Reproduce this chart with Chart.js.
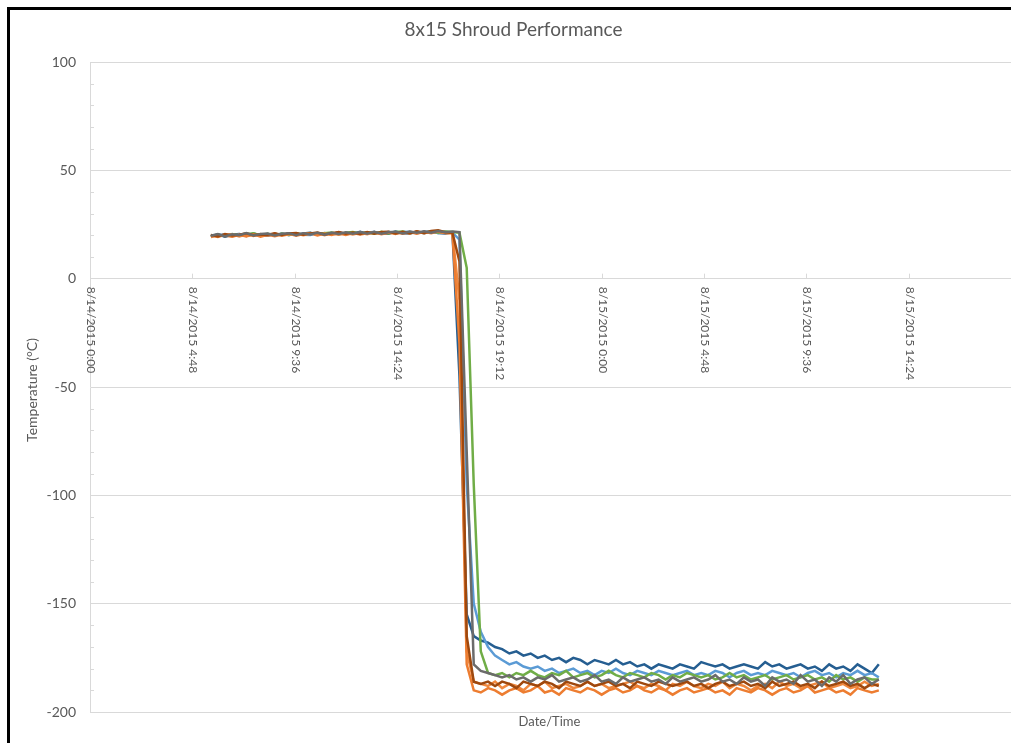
<!DOCTYPE html>
<html>
<head>
<meta charset="utf-8">
<script src="https://cdn.jsdelivr.net/npm/chart.js@4.4.1/dist/chart.umd.min.js"></script>
<style>
  html, body { margin: 0; padding: 0; background: #fff; }
  #wrap { position: relative; width: 1011px; height: 743px; overflow: hidden; }
  #frame { position: absolute; left: 7px; top: 7px; width: 1100px; height: 800px;
           border-left: 3px solid #000; border-top: 3px solid #000; pointer-events: none; }
  canvas { position: absolute; left: 0; top: 0; }
</style>
</head>
<body>
<div id="wrap">
  <canvas id="shroudChart" width="1011" height="743"></canvas>
  <div id="frame"></div>
</div>
<script>
// time of each reading, hours after 8/14/2015 0:00
const hours = [
  5.67, 6.00, 6.33, 6.67, 7.00, 7.33, 7.67, 8.00, 8.33, 8.67,
  9.00, 9.33, 9.67, 10.00, 10.33, 10.67, 11.00, 11.33, 11.67, 12.00,
  12.33, 12.67, 13.00, 13.33, 13.67, 14.00, 14.33, 14.67, 15.00, 15.33,
  15.67, 16.00, 16.33, 16.67, 17.00, 17.33, 17.67, 18.00, 18.33, 18.67,
  19.00, 19.33, 19.67, 20.00, 20.33, 20.67, 21.00, 21.33, 21.67, 22.00,
  22.33, 22.67, 23.00, 23.33, 23.67, 24.00, 24.33, 24.67, 25.00, 25.33,
  25.67, 26.00, 26.33, 26.67, 27.00, 27.33, 27.67, 28.00, 28.33, 28.67,
  29.00, 29.33, 29.67, 30.00, 30.33, 30.67, 31.00, 31.33, 31.67, 32.00,
  32.33, 32.67, 33.00, 33.33, 33.67, 34.00, 34.33, 34.67, 35.00, 35.33,
  35.67, 36.00, 36.33, 36.67, 37.00
];

const gray = [
  19.8, 20.6, 19.5, 20.5, 20.1, 21.0, 19.9, 20.6, 20.8, 19.9,
  20.7, 21.0, 20.1, 21.0, 20.4, 21.2, 20.3, 21.2, 20.6, 21.4,
  20.7, 21.5, 20.8, 21.6, 20.7, 21.4, 21.7, 20.9, 21.8, 21.2,
  21.9, 21.2, 22.0, 21.4, 21.8, 21.5, -80, -178, -181, -182,
  -183, -184, -183, -185, -184, -186, -184, -185, -183, -186,
  -185, -184, -186, -185, -183, -186, -185, -187, -184, -186,
  -185, -184, -186, -185, -187, -184, -186, -185, -184, -186,
  -185, -183, -186, -185, -187, -184, -186, -185, -188, -184,
  -186, -185, -187, -183, -186, -185, -188, -184, -186, -183,
  -187, -185, -184, -187, -185
];

const brown = [
  20.2, 19.5, 20.6, 19.9, 20.3, 20.9, 20.1, 20.4, 20.3, 21.0,
  20.2, 20.9, 21.1, 20.3, 20.9, 21.3, 20.4, 21.0, 21.5, 20.7,
  21.3, 20.6, 21.5, 20.8, 21.5, 21.7, 20.9, 21.6, 21.0, 21.9,
  21.1, 22.0, 22.3, 21.4, 21.2, 8, -165, -186, -187, -186,
  -188, -186, -187, -189, -186, -187, -188, -186, -187, -189,
  -186, -187, -188, -186, -188, -187, -186, -188, -187, -189,
  -186, -187, -188, -186, -187, -188, -187, -186, -188, -187,
  -189, -187, -186, -188, -187, -186, -188, -187, -189, -186,
  -188, -187, -186, -188, -187, -189, -186, -188, -187, -186,
  -188, -187, -189, -187, -188
];

const orangeA = [
  19.2, 20.1, 19.9, 19.4, 20.3, 19.5, 20.5, 19.4, 20.3, 19.6,
  20.4, 20.7, 19.8, 20.6, 20.9, 19.9, 20.8, 20.2, 21.0, 20.2,
  21.1, 20.4, 21.0, 21.3, 20.5, 21.2, 21.4, 20.7, 21.5, 20.8,
  21.6, 21.0, 21.7, 21.1, 21.0, -30, -178, -190, -191, -189,
  -190, -192, -190, -189, -191, -190, -188, -191, -190, -192,
  -189, -190, -191, -189, -190, -192, -190, -189, -191, -190,
  -188, -190, -191, -189, -190, -192, -190, -189, -191, -190,
  -189, -191, -190, -192, -189, -190, -191, -189, -190, -192,
  -190, -189, -191, -190, -188, -191, -190, -189, -191, -190,
  -192, -189, -190, -191, -190
];

const orangeB = [
  19.9, 19.3, 20.2, 20.5, 19.5, 20.4, 19.7, 20.6, 19.9, 20.8,
  19.8, 20.5, 20.8, 20.0, 20.7, 21.0, 20.1, 20.9, 20.3, 21.1,
  20.4, 21.2, 20.5, 21.4, 20.7, 21.3, 20.6, 21.5, 20.9, 21.7,
  21.0, 21.6, 21.8, 21.1, 21.1, -10, -172, -186, -187, -188,
  -186, -189, -187, -188, -190, -187, -188, -186, -189, -188,
  -187, -189, -188, -186, -188, -187, -189, -188, -187, -186,
  -188, -189, -187, -188, -190, -187, -188, -186, -188, -189,
  -187, -188, -186, -189, -187, -188, -190, -188, -187, -189,
  -186, -188, -187, -189, -188, -187, -186, -189, -188, -187,
  -189, -188, -186, -188, -187
];

const green = [
  19.7, 20.3, 19.7, 20.6, 19.9, 20.5, 20.9, 20.0, 20.7, 19.9,
  20.8, 20.2, 21.0, 20.3, 21.1, 20.4, 21.0, 21.3, 20.5, 21.2,
  21.5, 20.7, 21.4, 20.8, 21.6, 20.9, 21.5, 21.8, 21.0, 21.7,
  21.1, 21.9, 21.2, 21.8, 21.5, 21.2, 5, -95, -172, -182,
  -183, -182, -184, -182, -183, -181, -183, -184, -182, -183,
  -181, -184, -183, -182, -184, -183, -181, -183, -184, -182,
  -183, -184, -182, -183, -185, -183, -184, -182, -183, -184,
  -183, -185, -184, -182, -184, -183, -185, -184, -183, -185,
  -184, -183, -185, -184, -183, -185, -184, -186, -183, -185,
  -184, -186, -184, -185, -185
];

const lightBlue = [
  19.4, 20.2, 20.4, 19.6, 20.5, 19.9, 20.7, 19.7, 20.6, 20.0,
  20.8, 20.1, 20.9, 20.3, 20.2, 21.0, 20.4, 21.2, 20.5, 21.1,
  21.4, 20.6, 21.3, 21.5, 20.8, 21.6, 20.9, 21.5, 21.7, 21.0,
  21.6, 21.8, 21.1, 21.7, 21.2, 18, -95, -150, -163, -170,
  -174, -176, -178, -177, -179, -180, -179, -181, -180, -182,
  -181, -180, -182, -181, -183, -181, -182, -180, -182, -183,
  -181, -182, -183, -181, -182, -183, -182, -181, -183, -182,
  -183, -181, -182, -184, -182, -181, -183, -182, -183, -181,
  -182, -183, -182, -184, -182, -181, -183, -182, -184, -182,
  -183, -181, -183, -182, -184
];

const darkBlue = [
  19.6, 20.5, 19.4, 20.3, 20.6, 19.7, 20.8, 20.0, 19.8, 20.7,
  20.1, 21.0, 20.2, 20.8, 21.2, 20.3, 21.1, 20.5, 21.4, 20.6,
  20.8, 21.6, 20.7, 21.5, 20.9, 20.7, 21.7, 21.0, 20.8, 21.6,
  21.0, 21.8, 21.1, 20.9, 21.4, -45, -155, -165, -167, -168,
  -170, -171, -173, -172, -174, -173, -175, -174, -176, -175,
  -177, -175, -176, -178, -176, -177, -178, -176, -178, -177,
  -179, -178, -180, -178, -179, -180, -178, -179, -180, -177,
  -178, -179, -178, -180, -179, -178, -179, -180, -177, -179,
  -178, -180, -179, -178, -180, -179, -181, -178, -180, -179,
  -181, -178, -180, -182, -178
];

const seriesList = [gray, brown, orangeA, orangeB, green, lightBlue, darkBlue];
const seriesColors = ['#6b6b6b', '#9e480e', '#ed7d31', '#f0883e', '#70ad47', '#5b9bd5', '#255e91'];

const yTicks = [-200, -150, -100, -50, 0, 50, 100];
const xTickHours = [0, 4.8, 9.6, 14.4, 19.2, 24, 28.8, 33.6, 38.4];
const xTickLabels = [
  '8/14/2015 0:00', '8/14/2015 4:48', '8/14/2015 9:36', '8/14/2015 14:24',
  '8/14/2015 19:12', '8/15/2015 0:00', '8/15/2015 4:48', '8/15/2015 9:36',
  '8/15/2015 14:24'
];

const TEXT = '#595959';
const GRID = '#d9d9d9';
const FONT = 'Lato';

// Excel-style extras: axis crossing labels, minor ticks, titles
const excelAxes = {
  id: 'excelAxes',
  afterDraw(chart) {
    const { ctx, chartArea, scales: { x, y } } = chart;
    const y0 = y.getPixelForValue(0);
    ctx.save();

    ctx.strokeStyle = GRID;
    ctx.lineWidth = 1;
    for (let v = -200; v <= 100; v += 10) {
      if (v % 50 === 0) continue;
      const py = Math.round(y.getPixelForValue(v)) + 0.5;
      ctx.beginPath();
      ctx.moveTo(chartArea.left, py);
      ctx.lineTo(chartArea.left + 4, py);
      ctx.stroke();
    }

    ctx.fillStyle = TEXT;
    ctx.font = '12px ' + FONT;
    ctx.textAlign = 'left';
    ctx.textBaseline = 'middle';
    xTickHours.forEach((h, i) => {
      const px = Math.round(x.getPixelForValue(h)) + 0.5;
      ctx.beginPath();
      ctx.moveTo(px, y0 - 5);
      ctx.lineTo(px, y0);
      ctx.stroke();
      ctx.save();
      ctx.translate(px, y0 + 8);
      ctx.rotate(Math.PI / 2);
      ctx.fillText(xTickLabels[i], 0, 0);
      ctx.restore();
    });

    ctx.textAlign = 'center';
    ctx.font = '19px ' + FONT;
    ctx.fillText('8x15 Shroud Performance', (chartArea.left + chartArea.right) / 2 - 37, 30);

    ctx.font = '13px ' + FONT;
    ctx.fillText('Date/Time', (chartArea.left + chartArea.right) / 2 - 1, 722);

    ctx.save();
    ctx.font = '14px ' + FONT;
    ctx.translate(32, (chartArea.top + chartArea.bottom) / 2 + 3);
    ctx.rotate(-Math.PI / 2);
    ctx.fillText('Temperature (°C)', 0, 0);
    ctx.restore();

    ctx.restore();
  }
};

new Chart(document.getElementById('shroudChart'), {
  type: 'line',
  data: {
    datasets: seriesList.map((vals, i) => ({
      data: hours.map((h, j) => ({ x: h, y: vals[j] })),
      borderColor: seriesColors[i],
      borderWidth: 2.5,
      pointRadius: 0,
      tension: 0,
      fill: false,
    })),
  },
  options: {
    responsive: false,
    animation: false,
    devicePixelRatio: 1,
    layout: { padding: { top: 62, bottom: 31, left: 0, right: 0 } },
    plugins: { legend: { display: false }, tooltip: { enabled: false }, title: { display: false } },
    scales: {
      x: {
        type: 'linear',
        min: 0,
        max: 43.2,
        position: { y: 0 },
        grid: { display: false },
        border: { display: true, color: GRID, width: 1 },
        ticks: { display: false },
      },
      y: {
        min: -200,
        max: 100,
        afterBuildTicks: s => { s.ticks = yTicks.map(v => ({ value: v })); },
        afterFit: s => { s.width = 90; },
        grid: { color: GRID, drawTicks: false },
        border: { color: GRID },
        ticks: { color: TEXT, font: { family: FONT, size: 14 }, padding: 14 },
      },
    },
  },
  plugins: [excelAxes],
});
</script>
</body>
</html>
